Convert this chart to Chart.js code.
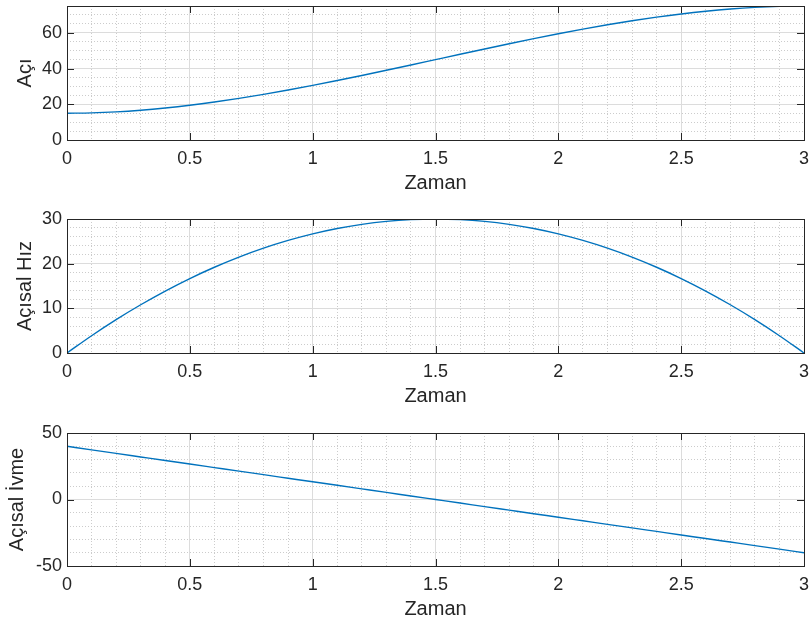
<!DOCTYPE html>
<html>
<head>
<meta charset="utf-8">
<title>Açı / Açısal Hız / Açısal İvme</title>
<script src="https://cdn.jsdelivr.net/npm/chart.js@4.4.1/dist/chart.umd.min.js"></script>
<style>
  html, body { margin: 0; padding: 0; background: #ffffff; }
  #wrap { position: relative; width: 812px; height: 626px; }
  .plot { position: absolute; left: 0; width: 812px; }
</style>
</head>
<body>
<div id="wrap">
  <div class="plot" style="top:0px"><canvas id="aci" width="812" height="200"></canvas></div>
  <div class="plot" style="top:203px"><canvas id="hiz" width="812" height="210"></canvas></div>
  <div class="plot" style="top:417px"><canvas id="ivme" width="812" height="209"></canvas></div>
</div>
<script>
// time samples (s)
const zaman = [0, 0.1, 0.2, 0.3, 0.4, 0.5, 0.6, 0.7, 0.8, 0.9, 1.0,
  1.1, 1.2, 1.3, 1.4, 1.5, 1.6, 1.7, 1.8, 1.9, 2.0,
  2.1, 2.2, 2.3, 2.4, 2.5, 2.6, 2.7, 2.8, 2.9, 3.0];

// angle (deg)
const aci = [15.00, 15.20, 15.76, 16.68, 17.92, 19.44, 21.24, 23.28, 25.52, 27.96, 30.56,
  33.28, 36.12, 39.04, 42.00, 45.00, 48.00, 50.96, 53.88, 56.72, 59.44,
  62.04, 64.48, 66.72, 68.76, 70.56, 72.08, 73.32, 74.24, 74.80, 75.00];

// angular velocity
const acisalHiz = [0.00, 3.87, 7.47, 10.80, 13.87, 16.67, 19.20, 21.47, 23.47, 25.20, 26.67,
  27.87, 28.80, 29.47, 29.87, 30.00, 29.87, 29.47, 28.80, 27.87, 26.67,
  25.20, 23.47, 21.47, 19.20, 16.67, 13.87, 10.80, 7.47, 3.87, 0.00];

// angular acceleration
const acisalIvme = [40.00, 37.33, 34.67, 32.00, 29.33, 26.67, 24.00, 21.33, 18.67, 16.00, 13.33,
  10.67, 8.00, 5.33, 2.67, 0.00, -2.67, -5.33, -8.00, -10.67, -13.33,
  -16.00, -18.67, -21.33, -24.00, -26.67, -29.33, -32.00, -34.67, -37.33, -40.00];

const xTicks = { min: 0, max: 3, step: 0.5, minor: 0.1 };

const AXIS_COLOR = '#262626';
const LINE_COLOR = '#0072BD';
const MAJOR_GRID = '#dcdcdc';
const MINOR_GRID = '#cccccc';
const FONT = '"Liberation Sans", Arial, Helvetica, sans-serif';
const TICK_SIZE = 18;
const LABEL_SIZE = 20;

// box around the plot area with inward ticks on all four sides
const boxTicks = {
  id: 'boxTicks',
  afterDraw(chart) {
    const { ctx, chartArea: a, scales } = chart;
    const len = 7;
    ctx.save();
    ctx.strokeStyle = AXIS_COLOR;
    ctx.lineWidth = 1;
    ctx.beginPath();
    scales.x.ticks.forEach(t => {
      const px = Math.round(scales.x.getPixelForValue(t.value)) + 0.5;
      ctx.moveTo(px, a.bottom); ctx.lineTo(px, a.bottom - len);
      ctx.moveTo(px, a.top); ctx.lineTo(px, a.top + len);
    });
    scales.y.ticks.forEach(t => {
      const py = Math.round(scales.y.getPixelForValue(t.value)) + 0.5;
      ctx.moveTo(a.left, py); ctx.lineTo(a.left + len, py);
      ctx.moveTo(a.right, py); ctx.lineTo(a.right - len, py);
    });
    ctx.stroke();
    ctx.strokeRect(Math.round(a.left) + 0.5, Math.round(a.top) + 0.5,
      Math.round(a.right - a.left), Math.round(a.bottom - a.top));
    ctx.restore();
  }
};

const plainNumber = v => String(Math.round(v * 100) / 100);

// labels may overhang the plot area; keep it at a fixed size
function fixX(height) {
  return s => { s.height = height; s.paddingLeft = 0; s.paddingRight = 0; };
}
function fixY(width) {
  return s => { s.width = width; s.paddingTop = 0; s.paddingBottom = 0; };
}

function makePlot(id, values, yLabel, yMin, yMax, yStep, yMinor, titlePad, topPad) {
  const points = zaman.map((t, i) => ({ x: t, y: values[i] }));
  return new Chart(document.getElementById(id), {
    type: 'line',
    data: {
      datasets: [{
        data: points,
        borderColor: LINE_COLOR,
        borderWidth: 1.4,
        pointRadius: 0,
        fill: false,
        cubicInterpolationMode: 'monotone'
      }]
    },
    options: {
      responsive: false,
      animation: false,
      events: [],
      layout: { padding: { top: topPad, right: 8, left: 0, bottom: 0 } },
      plugins: { legend: { display: false }, tooltip: { enabled: false } },
      scales: {
        // dotted minor grid
        xm: {
          type: 'linear', position: 'bottom', min: xTicks.min, max: xTicks.max,
          ticks: { display: false, stepSize: xTicks.minor },
          grid: { color: MINOR_GRID, lineWidth: 1, drawTicks: false },
          border: { display: false, dash: [1, 2] },
          afterFit: fixX(0)
        },
        ym: {
          type: 'linear', position: 'left', min: yMin, max: yMax,
          ticks: { display: false, stepSize: yMinor },
          grid: { color: MINOR_GRID, lineWidth: 1, drawTicks: false },
          border: { display: false, dash: [1, 2] },
          afterFit: fixY(0)
        },
        x: {
          type: 'linear', position: 'bottom', min: xTicks.min, max: xTicks.max,
          ticks: {
            stepSize: xTicks.step, autoSkip: false, maxRotation: 0, padding: 8,
            color: AXIS_COLOR, font: { family: FONT, size: TICK_SIZE }, callback: plainNumber
          },
          grid: { color: MAJOR_GRID, drawTicks: false },
          border: { display: false },
          title: {
            display: true, text: 'Zaman', color: AXIS_COLOR,
            font: { family: FONT, size: LABEL_SIZE }, padding: { top: 0, bottom: 5 }
          },
          afterFit: fixX(60)
        },
        y: {
          type: 'linear', position: 'left', min: yMin, max: yMax,
          ticks: {
            stepSize: yStep, includeBounds: false, padding: 5,
            color: AXIS_COLOR, font: { family: FONT, size: TICK_SIZE }, callback: plainNumber
          },
          grid: { color: MAJOR_GRID, drawTicks: false },
          border: { display: false },
          title: {
            display: true, text: yLabel, color: AXIS_COLOR,
            font: { family: FONT, size: LABEL_SIZE }, padding: { top: titlePad, bottom: 0 }
          },
          afterFit: fixY(67)
        }
      }
    },
    plugins: [boxTicks]
  });
}

makePlot('aci', aci, 'Açı', 0, 75, 20, 5, 13, 6);
makePlot('hiz', acisalHiz, 'Açısal Hız', 0, 30, 10, 2, 13, 16);
makePlot('ivme', acisalIvme, 'Açısal İvme', -50, 50, 50, 10, 5.5, 16);
</script>
</body>
</html>
